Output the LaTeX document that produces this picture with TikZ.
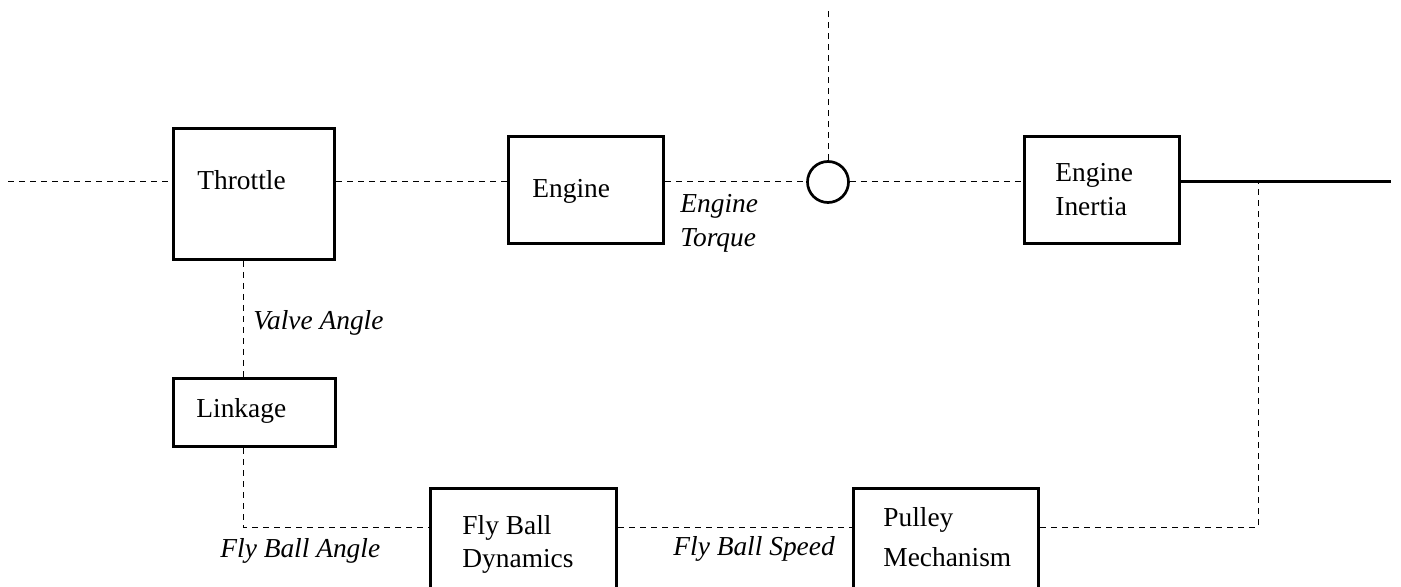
\documentclass[tikz,border=0pt]{standalone}
\usepackage{fontspec}
\setmainfont{Liberation Serif}
\begin{document}
\begin{tikzpicture}[x=0.5pt,y=-0.5pt,
    every node/.style={font=\fontsize{13.7}{17}\selectfont},
    blk/.style={draw,line width=1.5pt,inner sep=0pt},
    txt/.style={inner sep=0pt,anchor=base west,align=left},
    sigtxt/.style={txt,font=\fontsize{13.7}{17}\selectfont\itshape},
    sig/.style={line width=0.5pt,dash pattern=on 3.2pt off 2.3pt}]
      \clip (0,0) rectangle (1401,587);
      % blocks
      \node[blk,minimum width=80.5pt,minimum height=65.5pt] (throttle) at (254,194) {};
      \node[blk,minimum width=77.5pt,minimum height=53.5pt] (engine) at (586,190) {};
      \node[blk,circle,line width=1.35pt,minimum size=20.5pt] (sum) at (828,182) {};
      \node[blk,minimum width=77.5pt,minimum height=53.5pt] (inertia) at (1102,190) {};
      \node[blk,minimum width=81pt,minimum height=34pt] (linkage) at (254.5,412.5) {};
      \node[blk,minimum width=93pt,minimum height=75pt] (flyball) at (523.5,563.5) {};
      \node[blk,minimum width=92.5pt,minimum height=75pt] (pulley) at (946,563.5) {};
      % block texts (base = last line)
      \node[txt] (throttletxt) at (197,190) {Throttle};
      \node[txt] (enginetxt) at (532,198) {Engine};
      \node[txt] (inertiatxt) at (1055,216) {Engine\\Inertia};
      \node[txt] (linkagetxt) at (196,417) {Linkage};
      \node[txt,font=\fontsize{13.7}{16.5}\selectfont] (flyballtxt) at (462,567) {Fly Ball\\Dynamics};
      \node[txt,font=\fontsize{13.7}{20}\selectfont] (pulleytxt) at (883,566) {Pulley\\Mechanism};
      % signal names
      \node[sigtxt] (torquetxt) at (680,247) {Engine\\Torque};
      \node[sigtxt] (valvetxt) at (253,329) {Valve Angle};
      \node[sigtxt] (angletxt) at (220,557) {Fly Ball Angle};
      \node[sigtxt] (speedtxt) at (673,555) {Fly Ball Speed};
      % free ends and corners
      \coordinate (in) at (8,182);
      \coordinate (load) at (828,8);
      \coordinate (out) at (1391,182);
      \coordinate (tap) at (1258,182);
      \coordinate (corner) at (243,527);
      % signal lines
      \draw[sig] (in) -- (throttle.west |- in);
      \draw[sig] (throttle.east |- in) -- (engine.west |- in);
      \draw[sig] (engine.east |- in) -- (sum.west);
      \draw[sig] (sum.east) -- (inertia.west |- sum);
      \draw[sig] (sum.north) -- (load);
      \draw[line width=1.5pt] (inertia.east |- sum) -- (out);
      \draw[sig] (corner |- throttle.south) -- (corner |- linkage.north);
      \draw[sig] (corner |- linkage.south) -- (corner) -- (flyball.west |- corner);
      \draw[sig] (flyball.east |- corner) -- (pulley.west |- corner);
      \draw[sig] (pulley.east |- corner) -- (tap |- corner) -- (tap);
    \end{tikzpicture}
\end{document}
